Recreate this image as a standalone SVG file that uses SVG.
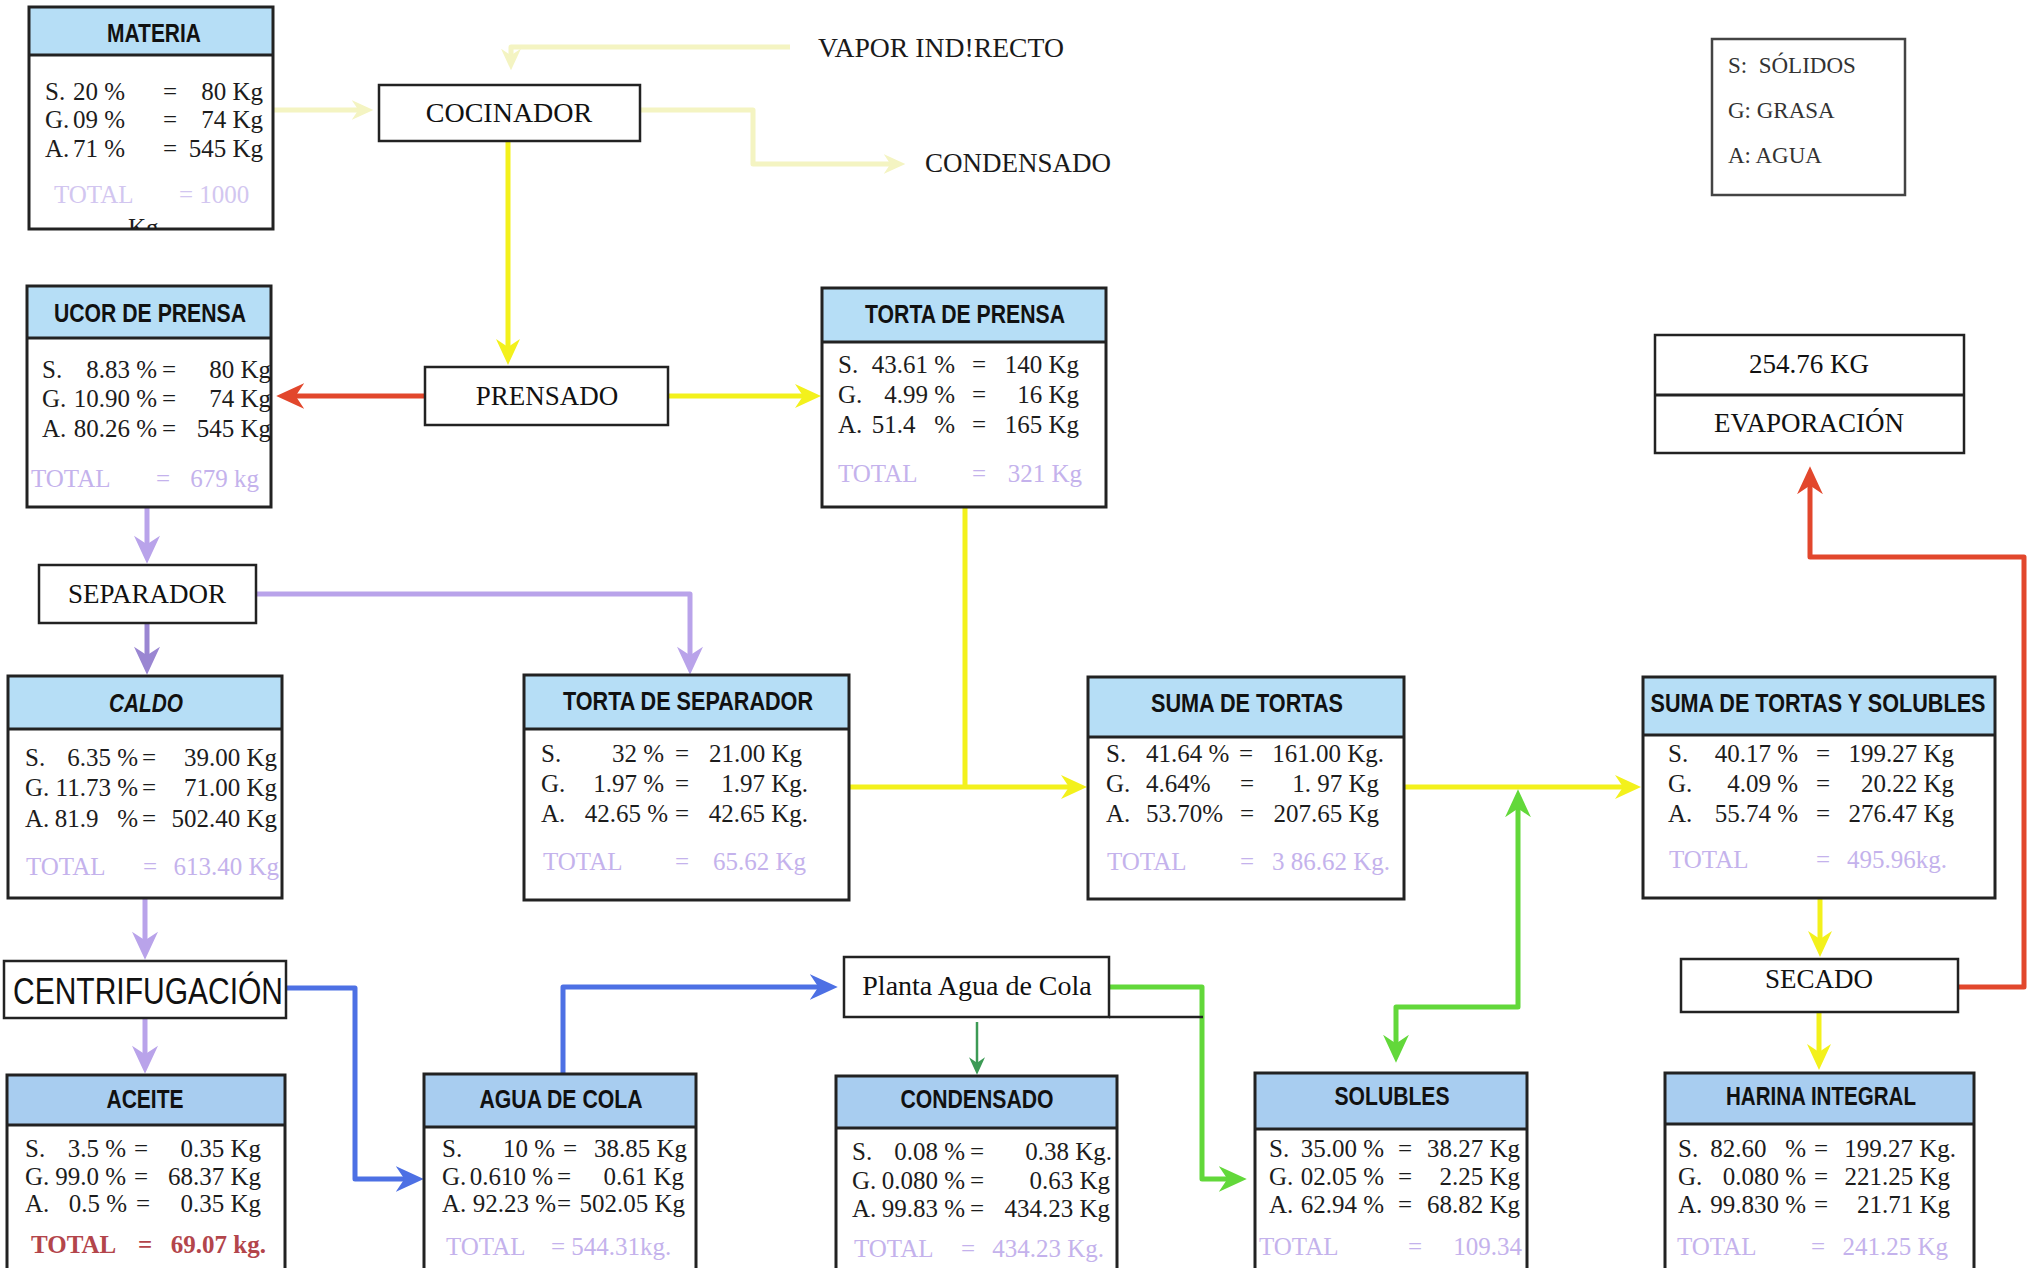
<svg xmlns="http://www.w3.org/2000/svg" width="2037" height="1268" viewBox="0 0 2037 1268">
<style>
.bx{fill:none;stroke:#222;stroke-width:3}
.wb{fill:#fff;stroke:#222;stroke-width:2.5}
.h1{fill:#b6def6}
.h2{fill:#a8cdf0}
.ttl{font-family:"Liberation Sans",Arial,sans-serif;font-weight:bold;font-size:25px;text-anchor:middle;fill:#111}
.t{font-family:"Liberation Serif","Times New Roman",serif;font-size:25px;fill:#1c1c1c}
.e{text-anchor:end}
.tot{font-family:"Liberation Serif","Times New Roman",serif;font-size:25px;fill:#c4b2ec}
.pr{font-family:"Liberation Serif","Times New Roman",serif;font-size:27px;fill:#111;text-anchor:middle}
.lbl{font-family:"Liberation Serif","Times New Roman",serif;font-size:27px;fill:#1a1a1a}
.lg{font-family:"Liberation Serif","Times New Roman",serif;font-size:23px;fill:#333}
.c{fill:none;stroke-width:5;stroke-linejoin:round}
</style>
<defs>
<marker id="aY" viewBox="0 0 26 24" refX="16" refY="12" markerWidth="26" markerHeight="24" markerUnits="userSpaceOnUse" orient="auto"><path d="M0,0 L26,12 L0,24 L8,12 z" fill="#f3f11c"/></marker>
<marker id="aP" viewBox="0 0 26 24" refX="16" refY="12" markerWidth="22" markerHeight="20" markerUnits="userSpaceOnUse" orient="auto"><path d="M0,0 L26,12 L0,24 L8,12 z" fill="#f4f4c2"/></marker>
<marker id="aR" viewBox="0 0 26 24" refX="16" refY="12" markerWidth="28" markerHeight="26" markerUnits="userSpaceOnUse" orient="auto"><path d="M0,0 L26,12 L0,24 L8,12 z" fill="#e2472c"/></marker>
<marker id="aL" viewBox="0 0 26 24" refX="16" refY="12" markerWidth="30" markerHeight="26" markerUnits="userSpaceOnUse" orient="auto"><path d="M0,0 L26,12 L0,24 L8,12 z" fill="#b9a3ea"/></marker>
<marker id="aD" viewBox="0 0 26 24" refX="16" refY="12" markerWidth="30" markerHeight="26" markerUnits="userSpaceOnUse" orient="auto"><path d="M0,0 L26,12 L0,24 L8,12 z" fill="#9a86d2"/></marker>
<marker id="aB" viewBox="0 0 26 24" refX="16" refY="12" markerWidth="28" markerHeight="26" markerUnits="userSpaceOnUse" orient="auto"><path d="M0,0 L26,12 L0,24 L8,12 z" fill="#4d70e4"/></marker>
<marker id="aG" viewBox="0 0 26 24" refX="16" refY="12" markerWidth="28" markerHeight="26" markerUnits="userSpaceOnUse" orient="auto-start-reverse"><path d="M0,0 L26,12 L0,24 L8,12 z" fill="#62d83a"/></marker>
<marker id="aK" viewBox="0 0 26 24" refX="16" refY="12" markerWidth="18" markerHeight="16" markerUnits="userSpaceOnUse" orient="auto"><path d="M0,0 L26,12 L0,24 L8,12 z" fill="#3c9a55"/></marker>
<clipPath id="cm"><rect x="29" y="7" width="244" height="222"/></clipPath>
</defs>

<g id="connectors">
<path class="c" stroke="#f4f4c2" d="M273,110 L365,110" marker-end="url(#aP)"/>
<path class="c" stroke="#f4f4c2" d="M790,47 L511,47 L511,62" marker-end="url(#aP)"/>
<path class="c" stroke="#f4f4c2" d="M640,110 L753,110 L753,164 L897,164" marker-end="url(#aP)"/>
<path class="c" stroke="#f3f11c" d="M508,141 L508,355" marker-end="url(#aY)"/>
<path class="c" stroke="#f3f11c" d="M668,396 L811,396" marker-end="url(#aY)"/>
<path class="c" stroke="#e2472c" d="M425,396 L287,396" marker-end="url(#aR)"/>
<path class="c" stroke="#f3f11c" d="M965,507 L965,787"/>
<path class="c" stroke="#f3f11c" d="M849,787 L1077,787" marker-end="url(#aY)"/>
<path class="c" stroke="#f3f11c" d="M1405,787 L1631,787" marker-end="url(#aY)"/>
<path class="c" stroke="#f3f11c" d="M1820,898 L1820,947" marker-end="url(#aY)"/>
<path class="c" stroke="#f3f11c" d="M1819,1012 L1819,1060" marker-end="url(#aY)"/>
<path class="c" stroke="#e2472c" d="M1959,987 L2024,987 L2024,557 L1810,557 L1810,477" marker-end="url(#aR)"/>
<path class="c" stroke="#62d83a" d="M1518,800 L1518,1007 L1396,1007 L1396,1052" marker-start="url(#aG)" marker-end="url(#aG)"/>
<path class="c" stroke="#62d83a" d="M1110,987 L1202,987 L1202,1179 L1236,1179" marker-end="url(#aG)"/>
<path fill="none" stroke="#3c9a55" stroke-width="2.5" d="M977,1022 L977,1068" marker-end="url(#aK)"/>
<path class="c" stroke="#4d70e4" d="M287,988 L355,988 L355,1179 L413,1179" marker-end="url(#aB)"/>
<path class="c" stroke="#4d70e4" d="M563,1073 L563,987 L827,987" marker-end="url(#aB)"/>
<path class="c" stroke="#b9a3ea" d="M147,507 L147,553" marker-end="url(#aL)"/>
<path class="c" stroke="#9a86d2" d="M147,623 L147,664" marker-end="url(#aD)"/>
<path class="c" stroke="#b9a3ea" d="M256,594 L690,594 L690,664" marker-end="url(#aL)"/>
<path class="c" stroke="#b9a3ea" d="M145,898 L145,949" marker-end="url(#aL)"/>
<path class="c" stroke="#b9a3ea" d="M145,1018 L145,1063" marker-end="url(#aL)"/>
</g>

<g id="materia">
<rect x="29" y="7" width="244" height="222" fill="#fff"/>
<rect class="h1" x="29" y="7" width="244" height="48"/>
<line x1="29" y1="55" x2="273" y2="55" stroke="#222" stroke-width="3"/>
<rect class="bx" x="29" y="7" width="244" height="222"/>
<text class="ttl" x="154" y="42" textLength="94" lengthAdjust="spacingAndGlyphs">MATERIA</text>
<text class="t" x="45" y="100">S.</text><text class="t e" x="125" y="100">20 %</text><text class="t" x="163" y="100">=</text><text class="t e" x="263" y="100">80 Kg</text>
<text class="t" x="45" y="128">G.</text><text class="t e" x="125" y="128">09 %</text><text class="t" x="163" y="128">=</text><text class="t e" x="263" y="128">74 Kg</text>
<text class="t" x="45" y="157">A.</text><text class="t e" x="125" y="157">71 %</text><text class="t" x="163" y="157">=</text><text class="t e" x="263" y="157">545 Kg</text>
<text class="tot" x="54" y="203" style="fill:#d2c6f0">TOTAL</text><text class="tot" x="179" y="203" style="fill:#d2c6f0">= 1000</text>
<text class="t" x="128" y="236" clip-path="url(#cm)">Kg</text>
</g>

<g id="cocinador">
<rect class="wb" x="379" y="85" width="261" height="56"/>
<text class="pr" x="509" y="122" style="font-size:28px">COCINADOR</text>
</g>

<g id="vapor-indirecto">
<text class="lbl" x="818" y="57" textLength="246" lengthAdjust="spacingAndGlyphs">VAPOR IND!RECTO</text>
</g>
<g id="condensado-label">
<text class="lbl" x="925" y="172">CONDENSADO</text>
</g>

<g id="leyenda">
<rect x="1712" y="39" width="193" height="156" fill="#fff" stroke="#444" stroke-width="2.5"/>
<text class="lg" x="1728" y="73" xml:space="preserve">S:  SÓLIDOS</text>
<text class="lg" x="1728" y="118">G: GRASA</text>
<text class="lg" x="1728" y="163">A: AGUA</text>
</g>

<g id="licor-prensa">
<rect x="27" y="286" width="244" height="221" fill="#fff"/>
<rect class="h1" x="27" y="286" width="244" height="52"/>
<line x1="27" y1="338" x2="271" y2="338" stroke="#222" stroke-width="3"/>
<rect class="bx" x="27" y="286" width="244" height="221"/>
<text class="ttl" x="150" y="322" textLength="192" lengthAdjust="spacingAndGlyphs">UCOR DE PRENSA</text>
<text class="t" x="42" y="378">S.</text><text class="t e" x="157" y="378">8.83 %</text><text class="t" x="162" y="378">=</text><text class="t e" x="271" y="378">80 Kg</text>
<text class="t" x="42" y="407">G.</text><text class="t e" x="157" y="407">10.90 %</text><text class="t" x="162" y="407">=</text><text class="t e" x="271" y="407">74 Kg</text>
<text class="t" x="42" y="437">A.</text><text class="t e" x="157" y="437">80.26 %</text><text class="t" x="162" y="437">=</text><text class="t e" x="271" y="437">545 Kg</text>
<text class="tot" x="31" y="487">TOTAL</text><text class="tot" x="156" y="487">=</text><text class="tot e" x="259" y="487">679 kg</text>
</g>

<g id="prensado">
<rect class="wb" x="425" y="367" width="243" height="58"/>
<text class="pr" x="547" y="405">PRENSADO</text>
</g>

<g id="torta-prensa">
<rect x="822" y="288" width="284" height="219" fill="#fff"/>
<rect class="h1" x="822" y="288" width="284" height="54"/>
<line x1="822" y1="342" x2="1106" y2="342" stroke="#222" stroke-width="3"/>
<rect class="bx" x="822" y="288" width="284" height="219"/>
<text class="ttl" x="965" y="323" textLength="200" lengthAdjust="spacingAndGlyphs">TORTA DE PRENSA</text>
<text class="t" x="838" y="373">S.</text><text class="t e" x="955" y="373">43.61 %</text><text class="t" x="972" y="373">=</text><text class="t e" x="1079" y="373">140 Kg</text>
<text class="t" x="838" y="403">G.</text><text class="t e" x="955" y="403">4.99 %</text><text class="t" x="972" y="403">=</text><text class="t e" x="1079" y="403">16 Kg</text>
<text class="t" x="838" y="433">A.</text><text class="t e" x="955" y="433" xml:space="preserve">51.4   %</text><text class="t" x="972" y="433">=</text><text class="t e" x="1079" y="433">165 Kg</text>
<text class="tot" x="838" y="482">TOTAL</text><text class="tot" x="972" y="482">=</text><text class="tot e" x="1082" y="482">321 Kg</text>
</g>

<g id="evaporacion">
<rect class="wb" x="1655" y="335" width="309" height="118"/>
<line x1="1655" y1="395" x2="1964" y2="395" stroke="#222" stroke-width="3"/>
<text class="pr" x="1809" y="373">254.76 KG</text>
<text class="pr" x="1809" y="432">EVAPORACIÓN</text>
</g>

<g id="separador">
<rect class="wb" x="39" y="565" width="217" height="58"/>
<text class="pr" x="147" y="603">SEPARADOR</text>
</g>

<g id="caldo">
<rect x="8" y="676" width="274" height="222" fill="#fff"/>
<rect class="h1" x="8" y="676" width="274" height="53"/>
<line x1="8" y1="729" x2="282" y2="729" stroke="#222" stroke-width="3"/>
<rect class="bx" x="8" y="676" width="274" height="222"/>
<text class="ttl" x="146" y="712" font-style="italic" textLength="74" lengthAdjust="spacingAndGlyphs">CALDO</text>
<text class="t" x="25" y="766">S.</text><text class="t e" x="138" y="766">6.35 %</text><text class="t" x="142" y="766">=</text><text class="t e" x="277" y="766">39.00 Kg</text>
<text class="t" x="25" y="796">G.</text><text class="t e" x="138" y="796">11.73 %</text><text class="t" x="142" y="796">=</text><text class="t e" x="277" y="796">71.00 Kg</text>
<text class="t" x="25" y="827">A.</text><text class="t e" x="138" y="827" xml:space="preserve">81.9   %</text><text class="t" x="142" y="827">=</text><text class="t e" x="277" y="827">502.40 Kg</text>
<text class="tot" x="26" y="875">TOTAL</text><text class="tot" x="143" y="875">=</text><text class="tot e" x="279" y="875">613.40 Kg</text>
</g>

<g id="torta-separador">
<rect x="524" y="675" width="325" height="225" fill="#fff"/>
<rect class="h1" x="524" y="675" width="325" height="54"/>
<line x1="524" y1="729" x2="849" y2="729" stroke="#222" stroke-width="3"/>
<rect class="bx" x="524" y="675" width="325" height="225"/>
<text class="ttl" x="688" y="710" textLength="250" lengthAdjust="spacingAndGlyphs">TORTA DE SEPARADOR</text>
<text class="t" x="541" y="762">S.</text><text class="t e" x="664" y="762">32 %</text><text class="t" x="675" y="762">=</text><text class="t e" x="802" y="762">21.00 Kg</text>
<text class="t" x="541" y="792">G.</text><text class="t e" x="664" y="792">1.97 %</text><text class="t" x="675" y="792">=</text><text class="t e" x="808" y="792">1.97 Kg.</text>
<text class="t" x="541" y="822">A.</text><text class="t e" x="668" y="822">42.65 %</text><text class="t" x="675" y="822">=</text><text class="t e" x="808" y="822">42.65 Kg.</text>
<text class="tot" x="543" y="870">TOTAL</text><text class="tot" x="675" y="870">=</text><text class="tot e" x="806" y="870">65.62 Kg</text>
</g>

<g id="suma-tortas">
<rect x="1088" y="677" width="316" height="222" fill="#fff"/>
<rect class="h1" x="1088" y="677" width="316" height="60"/>
<line x1="1088" y1="737" x2="1404" y2="737" stroke="#222" stroke-width="3"/>
<rect class="bx" x="1088" y="677" width="316" height="222"/>
<text class="ttl" x="1247" y="712" textLength="192" lengthAdjust="spacingAndGlyphs">SUMA DE TORTAS</text>
<text class="t" x="1106" y="762">S.</text><text class="t" x="1146" y="762">41.64 %</text><text class="t" x="1239" y="762">=</text><text class="t e" x="1384" y="762">161.00 Kg.</text>
<text class="t" x="1106" y="792">G.</text><text class="t" x="1146" y="792">4.64%</text><text class="t" x="1240" y="792">=</text><text class="t e" x="1379" y="792">1. 97 Kg</text>
<text class="t" x="1106" y="822">A.</text><text class="t" x="1146" y="822">53.70%</text><text class="t" x="1240" y="822">=</text><text class="t e" x="1379" y="822">207.65 Kg</text>
<text class="tot" x="1107" y="870">TOTAL</text><text class="tot" x="1240" y="870">=</text><text class="tot e" x="1390" y="870">3 86.62 Kg.</text>
</g>

<g id="suma-tortas-solubles">
<rect x="1643" y="677" width="352" height="221" fill="#fff"/>
<rect class="h1" x="1643" y="677" width="352" height="58"/>
<line x1="1643" y1="735" x2="1995" y2="735" stroke="#222" stroke-width="3"/>
<rect class="bx" x="1643" y="677" width="352" height="221"/>
<text class="ttl" x="1818" y="712" textLength="335" lengthAdjust="spacingAndGlyphs">SUMA DE TORTAS Y SOLUBLES</text>
<text class="t" x="1668" y="762">S.</text><text class="t e" x="1798" y="762">40.17 %</text><text class="t" x="1816" y="762">=</text><text class="t e" x="1954" y="762">199.27 Kg</text>
<text class="t" x="1668" y="792">G.</text><text class="t e" x="1798" y="792">4.09 %</text><text class="t" x="1816" y="792">=</text><text class="t e" x="1954" y="792">20.22 Kg</text>
<text class="t" x="1668" y="822">A.</text><text class="t e" x="1798" y="822">55.74 %</text><text class="t" x="1816" y="822">=</text><text class="t e" x="1954" y="822">276.47 Kg</text>
<text class="tot" x="1669" y="868">TOTAL</text><text class="tot" x="1816" y="868">=</text><text class="tot e" x="1947" y="868">495.96kg.</text>
</g>

<g id="centrifugacion">
<rect class="wb" x="4" y="961" width="282" height="57"/>
<text x="13" y="1004" font-family="Liberation Sans, Arial, sans-serif" font-size="36" fill="#111" textLength="270" lengthAdjust="spacingAndGlyphs">CENTRIFUGACIÓN</text>
</g>

<g id="planta-agua-cola">
<rect class="wb" x="844" y="957" width="265" height="60"/>
<line x1="1109" y1="1017" x2="1203" y2="1017" stroke="#222" stroke-width="2.5"/>
<text class="pr" x="977" y="995" style="font-size:28px">Planta Agua de Cola</text>
</g>

<g id="secado">
<rect class="wb" x="1681" y="959" width="277" height="53"/>
<text class="pr" x="1819" y="988">SECADO</text>
</g>

<g id="aceite">
<rect x="7" y="1075" width="278" height="210" fill="#fff"/>
<rect class="h2" x="7" y="1075" width="278" height="50"/>
<line x1="7" y1="1125" x2="285" y2="1125" stroke="#222" stroke-width="3"/>
<rect class="bx" x="7" y="1075" width="278" height="210"/>
<text class="ttl" x="145" y="1108" textLength="77" lengthAdjust="spacingAndGlyphs">ACEITE</text>
<text class="t" x="25" y="1157">S.</text><text class="t e" x="126" y="1157">3.5 %</text><text class="t" x="134" y="1157">=</text><text class="t e" x="261" y="1157">0.35 Kg</text>
<text class="t" x="25" y="1185">G.</text><text class="t e" x="126" y="1185">99.0 %</text><text class="t" x="134" y="1185">=</text><text class="t e" x="261" y="1185">68.37 Kg</text>
<text class="t" x="25" y="1212">A.</text><text class="t e" x="127" y="1212">0.5 %</text><text class="t" x="136" y="1212">=</text><text class="t e" x="261" y="1212">0.35 Kg</text>
<text class="tot" x="31" y="1253" style="fill:#b3454b;font-weight:bold">TOTAL</text><text class="tot" x="138" y="1253" style="fill:#b3454b;font-weight:bold">=</text><text class="tot e" x="266" y="1253" style="fill:#b3454b;font-weight:bold">69.07 kg.</text>
</g>

<g id="agua-cola">
<rect x="424" y="1074" width="272" height="211" fill="#fff"/>
<rect class="h2" x="424" y="1074" width="272" height="53"/>
<line x1="424" y1="1127" x2="696" y2="1127" stroke="#222" stroke-width="3"/>
<rect class="bx" x="424" y="1074" width="272" height="211"/>
<text class="ttl" x="561" y="1108" textLength="163" lengthAdjust="spacingAndGlyphs">AGUA DE COLA</text>
<text class="t" x="442" y="1157">S.</text><text class="t e" x="555" y="1157">10 %</text><text class="t" x="563" y="1157">=</text><text class="t e" x="687" y="1157">38.85 Kg</text>
<text class="t" x="442" y="1185">G.</text><text class="t e" x="553" y="1185">0.610 %</text><text class="t" x="557" y="1185">=</text><text class="t e" x="684" y="1185">0.61 Kg</text>
<text class="t" x="442" y="1212">A.</text><text class="t e" x="556" y="1212">92.23 %</text><text class="t" x="557" y="1212">=</text><text class="t e" x="685" y="1212">502.05 Kg</text>
<text class="tot" x="446" y="1255">TOTAL</text><text class="tot" x="551" y="1255">= 544.31kg.</text>
</g>

<g id="condensado">
<rect x="836" y="1076" width="281" height="209" fill="#fff"/>
<rect class="h2" x="836" y="1076" width="281" height="52"/>
<line x1="836" y1="1128" x2="1117" y2="1128" stroke="#222" stroke-width="3"/>
<rect class="bx" x="836" y="1076" width="281" height="209"/>
<text class="ttl" x="977" y="1108" textLength="153" lengthAdjust="spacingAndGlyphs">CONDENSADO</text>
<text class="t" x="852" y="1160">S.</text><text class="t e" x="965" y="1160">0.08 %</text><text class="t" x="970" y="1160">=</text><text class="t e" x="1112" y="1160">0.38 Kg.</text>
<text class="t" x="852" y="1189">G.</text><text class="t e" x="965" y="1189">0.080 %</text><text class="t" x="970" y="1189">=</text><text class="t e" x="1110" y="1189">0.63 Kg</text>
<text class="t" x="852" y="1217">A.</text><text class="t e" x="965" y="1217">99.83 %</text><text class="t" x="970" y="1217">=</text><text class="t e" x="1110" y="1217">434.23 Kg</text>
<text class="tot" x="854" y="1257">TOTAL</text><text class="tot" x="961" y="1257">=</text><text class="tot e" x="1104" y="1257">434.23 Kg.</text>
</g>

<g id="solubles">
<rect x="1255" y="1073" width="272" height="212" fill="#fff"/>
<rect class="h2" x="1255" y="1073" width="272" height="56"/>
<line x1="1255" y1="1129" x2="1527" y2="1129" stroke="#222" stroke-width="3"/>
<rect class="bx" x="1255" y="1073" width="272" height="212"/>
<text class="ttl" x="1392" y="1105" textLength="115" lengthAdjust="spacingAndGlyphs">SOLUBLES</text>
<text class="t" x="1269" y="1157">S.</text><text class="t e" x="1384" y="1157">35.00 %</text><text class="t" x="1398" y="1157">=</text><text class="t e" x="1520" y="1157">38.27 Kg</text>
<text class="t" x="1269" y="1185">G.</text><text class="t e" x="1384" y="1185">02.05 %</text><text class="t" x="1398" y="1185">=</text><text class="t e" x="1520" y="1185">2.25 Kg</text>
<text class="t" x="1269" y="1213">A.</text><text class="t e" x="1384" y="1213">62.94 %</text><text class="t" x="1398" y="1213">=</text><text class="t e" x="1520" y="1213">68.82 Kg</text>
<text class="tot" x="1259" y="1255">TOTAL</text><text class="tot" x="1408" y="1255">=</text><text class="tot e" x="1522" y="1255">109.34</text>
</g>

<g id="harina-integral">
<rect x="1665" y="1073" width="309" height="212" fill="#fff"/>
<rect class="h2" x="1665" y="1073" width="309" height="51"/>
<line x1="1665" y1="1124" x2="1974" y2="1124" stroke="#222" stroke-width="3"/>
<rect class="bx" x="1665" y="1073" width="309" height="212"/>
<text class="ttl" x="1821" y="1105" textLength="190" lengthAdjust="spacingAndGlyphs">HARINA INTEGRAL</text>
<text class="t" x="1678" y="1157">S.</text><text class="t e" x="1806" y="1157" xml:space="preserve">82.60   %</text><text class="t" x="1814" y="1157">=</text><text class="t e" x="1956" y="1157">199.27 Kg.</text>
<text class="t" x="1678" y="1185">G.</text><text class="t e" x="1806" y="1185">0.080 %</text><text class="t" x="1814" y="1185">=</text><text class="t e" x="1950" y="1185">221.25 Kg</text>
<text class="t" x="1678" y="1213">A.</text><text class="t e" x="1806" y="1213">99.830 %</text><text class="t" x="1814" y="1213">=</text><text class="t e" x="1950" y="1213">21.71 Kg</text>
<text class="tot" x="1677" y="1255">TOTAL</text><text class="tot" x="1811" y="1255">=</text><text class="tot e" x="1948" y="1255">241.25 Kg</text>
</g>
</svg>
